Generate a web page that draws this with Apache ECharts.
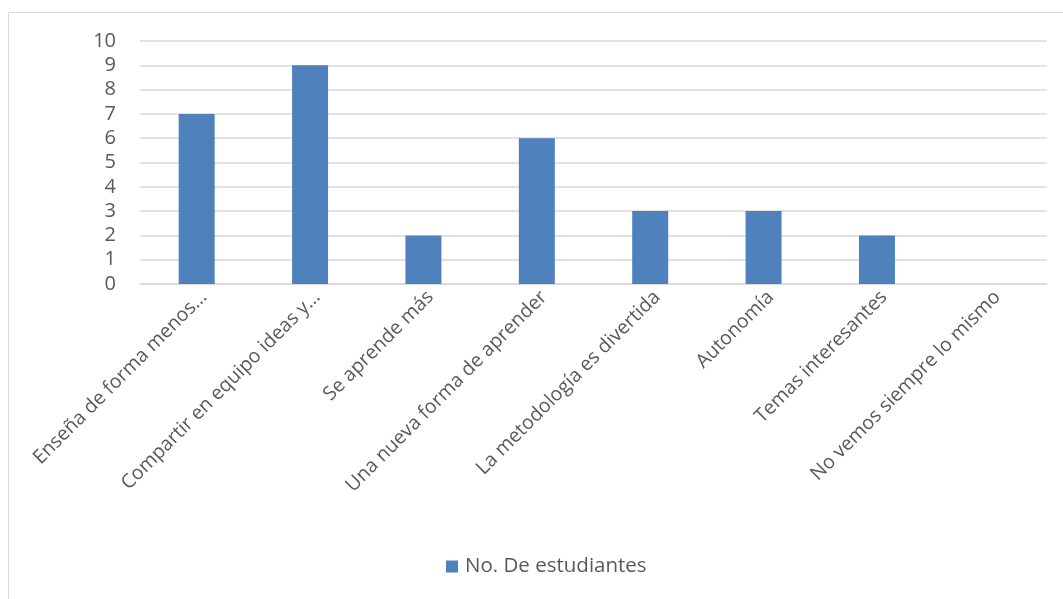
<!DOCTYPE html>
<html>
<head>
<meta charset="utf-8">
<script src="https://cdn.jsdelivr.net/npm/echarts@6/dist/echarts.min.js"></script>
<style>
  html, body { margin: 0; padding: 0; background: #fff; }
  #chart { width: 1063px; height: 599px; }
</style>
</head>
<body>
<div id="chart"></div>
<script>
// Responses and counts
const categories = [
  'Enseña de forma menos…',
  'Compartir en equipo ideas y…',
  'Se aprende más',
  'Una nueva forma de aprender',
  'La metodología es divertida',
  'Autonomía',
  'Temas interesantes',
  'No vemos siempre lo mismo'
];
const seriesName = 'No. De estudiantes';
const counts = [7, 9, 2, 6, 3, 3, 2, 0];
const yTicks = { min: 0, max: 10, interval: 1 };

const textColor = '#595959';
const fontFamily = 'Open Sans, Liberation Sans, sans-serif';

const chart = echarts.init(document.getElementById('chart'), null, { renderer: 'canvas' });
chart.setOption({
  animation: false,
  backgroundColor: '#ffffff',
  graphic: [{
    type: 'rect',
    shape: { x: 8.5, y: 12.5, width: 1200, height: 800 },
    style: { fill: 'none', stroke: '#d9d9d9', lineWidth: 1 },
    silent: true
  }],
  grid: { left: 140, right: 16, top: 41, bottom: 315, containLabel: false },
  legend: {
    bottom: 17,
    left: 441,
    itemWidth: 12,
    itemHeight: 12,
    icon: 'rect',
    itemGap: 6,
    textStyle: { color: textColor, fontSize: 20.5, fontFamily: fontFamily, padding: [0, 0, 0, 2] },
    data: [seriesName]
  },
  xAxis: {
    type: 'category',
    data: categories,
    axisLine: { show: true, lineStyle: { color: '#d9d9d9', width: 1.5 } },
    axisTick: { show: false },
    axisLabel: {
      rotate: 45,
      interval: 0,
      margin: 3,
      verticalAlign: 'top',
      color: textColor,
      fontSize: 19.5,
      fontFamily: fontFamily
    }
  },
  yAxis: {
    type: 'value',
    min: yTicks.min,
    max: yTicks.max,
    interval: yTicks.interval,
    axisLine: { show: false },
    axisTick: { show: false },
    splitLine: { lineStyle: { color: '#d9d9d9', width: 1.5 } },
    axisLabel: {
      margin: 24,
      color: textColor,
      fontSize: 20,
      fontFamily: fontFamily
    }
  },
  series: [{
    name: seriesName,
    type: 'bar',
    data: counts,
    barWidth: 36,
    itemStyle: { color: '#4f81bd' }
  }]
});
</script>
</body>
</html>
